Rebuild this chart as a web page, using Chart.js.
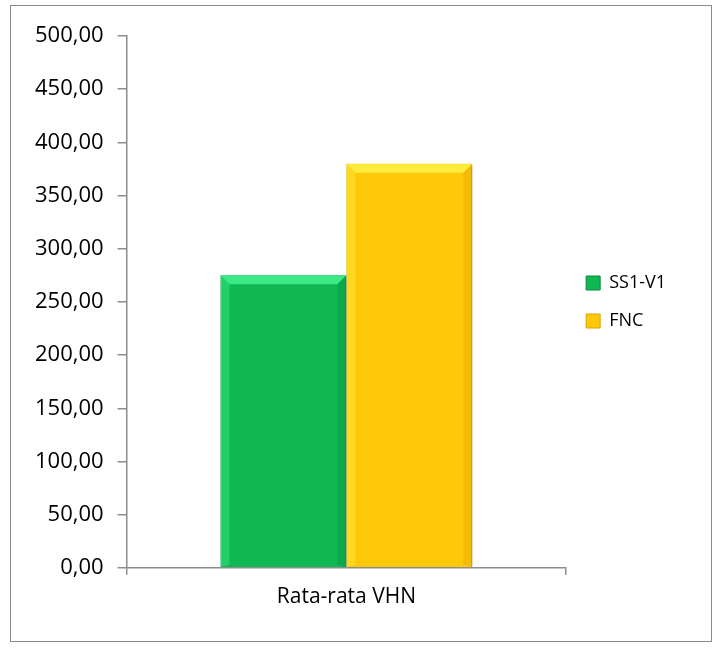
<!DOCTYPE html>
<html>
<head>
<meta charset="utf-8">
<script src="https://cdn.jsdelivr.net/npm/chart.js@4"></script>
<style>
  body { margin: 0; background: #fff; }
  #box {
    position: absolute; left: 10px; top: 5px;
    width: 700px; height: 635px;
    border: 1px solid #8c8c8c;
  }
</style>
</head>
<body>
<div id="box"><canvas id="barChart" width="700" height="635"></canvas></div>
<script>
const categories = ["Rata-rata VHN"];
const seriesNames = ["SS1-V1", "FNC"];
const ss1Values = [275];
const fncValues = [380];
const barColors = ["#10B853", "#FFC808"];
const barEdges = ["#0A8A3C", "#D9A300"];
const lightColors = ["#3BEA86", "#FFEB3C"];

// simple bevel on each bar, drawn from the bar elements the library laid out
const bevel = {
  id: "bevel",
  beforeDatasetDraw(chart, args) {
    const ctx = chart.ctx;
    ctx.save();
    ctx.shadowColor = "rgba(0,0,0,0.35)";
    ctx.shadowBlur = 4;
    ctx.shadowOffsetX = 2;
    ctx.shadowOffsetY = 1;
  },
  afterDatasetDraw(chart, args) {
    const ctx = chart.ctx;
    ctx.restore();
    const i = args.index;
    args.meta.data.forEach(bar => {
      const p = bar.getProps(["x", "y", "base", "width"], true);
      const l = p.x - p.width / 2, r = p.x + p.width / 2, t = p.y, b = p.base;
      const d = 9;
      ctx.save();
      // top band
      ctx.fillStyle = lightColors[i];
      ctx.beginPath();
      ctx.moveTo(l, t); ctx.lineTo(r, t); ctx.lineTo(r - d, t + d); ctx.lineTo(l + d, t + d);
      ctx.closePath(); ctx.fill();
      // left band
      ctx.globalAlpha = 0.45;
      ctx.beginPath();
      ctx.moveTo(l, t); ctx.lineTo(l + d, t + d); ctx.lineTo(l + d, b - 2); ctx.lineTo(l, b);
      ctx.closePath(); ctx.fill();
      // right band
      ctx.globalAlpha = 0.35;
      ctx.fillStyle = barEdges[i];
      ctx.beginPath();
      ctx.moveTo(r, t); ctx.lineTo(r - d, t + d); ctx.lineTo(r - d, b - 2); ctx.lineTo(r, b);
      ctx.closePath(); ctx.fill();
      ctx.restore();
    });
  }
};

const ctz = document.getElementById("barChart");
const canvas = ctz.getContext("2d");

const barChart = new Chart(canvas, {
  type: "bar",
  data: {
    labels: categories,
    datasets: [
      {
        label: seriesNames[0],
        data: ss1Values,
        backgroundColor: barColors[0],
        borderColor: barEdges[0],
        borderWidth: 1,
        barPercentage: 1,
        categoryPercentage: 0.573,
      },
      {
        label: seriesNames[1],
        data: fncValues,
        backgroundColor: barColors[1],
        borderColor: barEdges[1],
        borderWidth: 1,
        barPercentage: 1,
        categoryPercentage: 0.573,
      },
    ],
  },
  options: {
    responsive: false,
    animation: false,
    layout: { padding: { top: 30, right: 35, bottom: 21, left: 10 } },
    plugins: {
      tooltip: { enabled: false },
      legend: {
        position: "right",
        align: "start",
        // empty title only used to push the items down to mid-height
        title: { display: true, text: " ", font: { size: 10 }, padding: { top: 206, bottom: 0 } },
        labels: {
          color: "#000",
          font: { family: "Open Sans", size: 18 },
          boxWidth: 14,
          boxHeight: 14,
          padding: 20,
        },
      },
    },
    scales: {
      y: {
        min: 0,
        max: 500,
        ticks: {
          stepSize: 50,
          color: "#000",
          padding: 14,
          font: { family: "Open Sans", size: 22 },
          callback: v => v.toFixed(2).replace(".", ","),
        },
        grid: { drawOnChartArea: false, tickLength: 9, color: "#8c8c8c", lineWidth: 1.5 },
        border: { color: "#8c8c8c", width: 1.5 },
      },
      x: {
        ticks: { color: "#000", padding: 10, font: { family: "Open Sans", size: 21 } },
        grid: { offset: true, drawOnChartArea: false, tickLength: 7, color: "#8c8c8c", lineWidth: 1.5 },
        border: { color: "#8c8c8c", width: 1.5 },
      },
    },
  },
  plugins: [bevel],
});
</script>
</body>
</html>
